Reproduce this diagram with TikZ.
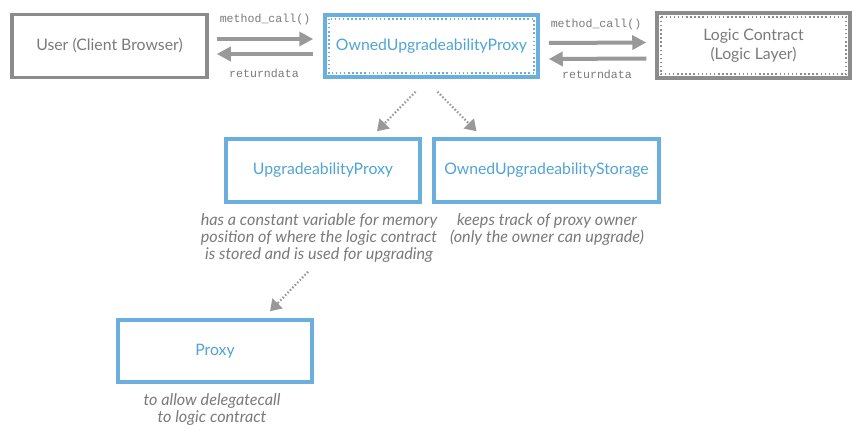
\documentclass[tikz,border=0pt]{standalone}
\usepackage{fontspec}
\setmainfont{Lato}
\setmonofont{Liberation Mono}
\usetikzlibrary{arrows.meta,calc}
\definecolor{cblue}{HTML}{6AAFDD}
\definecolor{tblue}{HTML}{4FA3D6}
\definecolor{cgrey}{HTML}{8C8C8C}
\definecolor{tgrey}{HTML}{7A7A7A}
\definecolor{dgrey}{HTML}{999999}
\tikzset{
  greybox/.style={draw=cgrey, line width=3.5pt, text=tgrey, align=center, font=\fontsize{15.8}{19}\selectfont, inner sep=0pt},
  bluebox/.style={draw=cblue, line width=3.5pt, text=tblue, align=center, font=\fontsize{15.8}{19}\selectfont, inner sep=0pt},
  innerdots/.style={line width=1.6pt, dash pattern=on 1.5pt off 2.6pt},
  callarrow/.style={draw=dgrey, line width=4pt, -{Triangle[length=14pt,width=14pt]}},
  dotarrow/.style={draw=dgrey, line width=2.2pt, dash pattern=on 1.5pt off 2pt, -{Triangle[length=11pt,width=14pt]}},
  codelabel/.style={text=tgrey, font=\ttfamily\fontsize{11.6}{12}\selectfont, inner sep=0pt},
  desc/.style={text=tgrey, align=center, font=\itshape\fontsize{16.2}{17}\selectfont, inner sep=0pt}
}
\begin{document}
\begin{tikzpicture}[x=1pt,y=-1pt]
\useasboundingbox (0,0) rectangle (861,436);
% top row
\node[greybox, minimum width=195pt, minimum height=63pt] (user) at (109.5,46) {User (Client Browser)};
\node[bluebox, minimum width=213pt, minimum height=62pt] (oup) at (431.5,46) {OwnedUpgradeabilityProxy};
\node[greybox, minimum width=193pt, minimum height=65pt] (logic) at (753.5,45.5) {Logic Contract\\(Logic Layer)};
\draw[cblue, innerdots] ([xshift=5.5pt,yshift=-5.5pt]oup.north west) rectangle ([xshift=-5.5pt,yshift=5.5pt]oup.south east);
\draw[cgrey, innerdots] ([xshift=5.5pt,yshift=-5.5pt]logic.north west) rectangle ([xshift=-5.5pt,yshift=5.5pt]logic.south east);
% call arrows left
\draw[callarrow] ([xshift=8pt,yshift=7pt]user.east) -- ([xshift=-10pt,yshift=7pt]oup.west);
\draw[callarrow] ([xshift=-10pt,yshift=-8pt]oup.west) -- ([xshift=8pt,yshift=-8pt]user.east);
\node[codelabel] (mc1) at (265,20) {method\_call()};
\node[codelabel] (rd1) at (264,73) {returndata};
% call arrows right
\draw[callarrow] ([xshift=9pt,yshift=3pt]oup.east) -- ([xshift=-9pt,yshift=3pt]logic.west);
\draw[callarrow] ([xshift=-9pt,yshift=-13pt]logic.west) -- ([xshift=9pt,yshift=-13pt]oup.east);
\node[codelabel] (mc2) at (596,25) {method\_call()};
\node[codelabel] (rd2) at (597,74) {returndata};
% second row
\node[bluebox, minimum width=194pt, minimum height=63pt] (up) at (323,170.5) {UpgradeabilityProxy};
\node[bluebox, minimum width=225pt, minimum height=63pt] (ous) at (546.5,170.5) {OwnedUpgradeabilityStorage};
\draw[dotarrow] ([xshift=-16pt,yshift=-13pt]oup.south) -- ([xshift=54pt,yshift=6pt]up.north);
\draw[dotarrow] ([xshift=6pt,yshift=-13pt]oup.south) -- ([xshift=-70pt,yshift=6pt]ous.north);
\node[desc, anchor=north] (upd) at (319,213) {has a constant variable for memory\\position of where the logic contract\\is stored and is used for upgrading};
\node[desc, anchor=north] (ousd) at (547,213) {keeps track of proxy owner\\(only the owner can upgrade)};
% third row
\node[bluebox, minimum width=194pt, minimum height=62pt] (proxy) at (215,351) {Proxy};
\draw[dotarrow] ([xshift=-15pt,yshift=-68pt]up.south) -- ([xshift=55pt,yshift=7pt]proxy.north);
\node[desc, anchor=north] (pd) at (212,393) {to allow delegatecall\\to logic contract};
\end{tikzpicture}
\end{document}
